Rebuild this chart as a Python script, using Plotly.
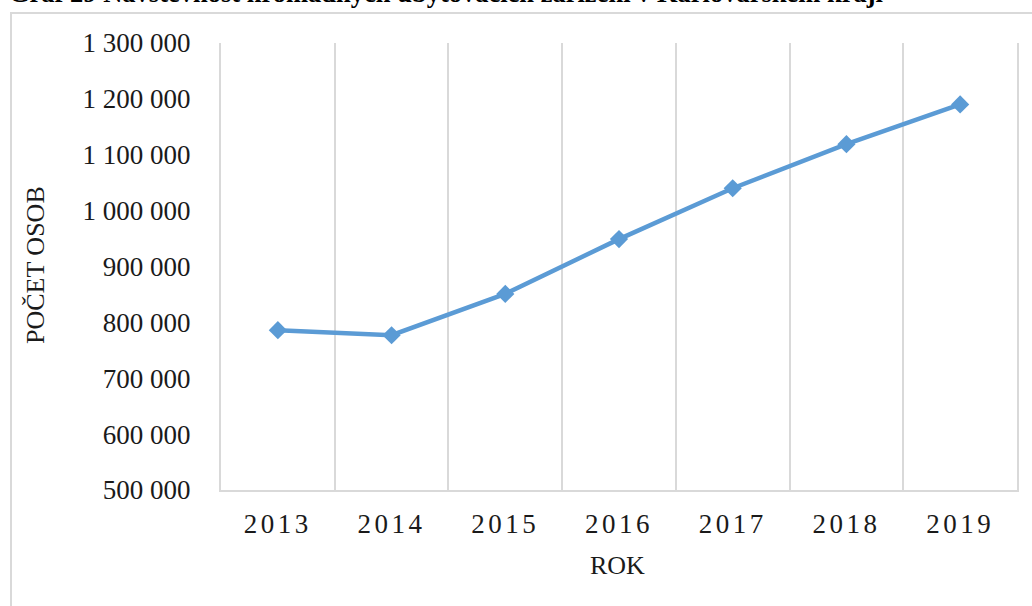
import plotly.graph_objects as go

years = ["2013", "2014", "2015", "2016", "2017", "2018", "2019"]
visitors = [786000, 777000, 851000, 949000, 1040000, 1119000, 1190000]

title_text = "Graf 29 Návštěvnost hromadných ubytovacích zařízení v Karlovarském kraji"
y_title = "POČET OSOB"
x_title = "ROK"

W, H = 1032, 606
L, R, T, B = 221, 1017, 43, 490


def px(x):
    return (x - L) / (R - L)


def py(y):
    return (B - y) / (B - T)


fig = go.Figure()
fig.add_trace(go.Scatter(
    x=years, y=visitors, mode="lines+markers",
    line=dict(color="#5B9BD5", width=4.5),
    marker=dict(symbol="diamond", size=14, color="#5B9BD5"),
    showlegend=False,
))

serif = "Liberation Serif, Times New Roman, serif"
txt = "#1a1a1a"

fig.update_layout(
    width=W, height=H,
    margin=dict(l=L, r=W - R, t=T, b=H - B),
    paper_bgcolor="white", plot_bgcolor="white",
    separators=". ",
    font=dict(family=serif, color=txt),
    xaxis=dict(
        type="category", range=[-0.5, 6.5], tickson="boundaries",
        tickmode="array", tickvals=years,
        ticktext=['<span style="letter-spacing:3.5px">' + y + '</span>' for y in years],
        showgrid=True, gridcolor="#d9d9d9", gridwidth=2,
        showline=True, linecolor="#d9d9d9", linewidth=2,
        ticks="", tickfont=dict(size=27, family=serif, color=txt),
        ticklabelstandoff=9,
    ),
    yaxis=dict(
        range=[500000, 1300000], dtick=100000, tickformat=",d",
        showgrid=False, zeroline=False,
        showline=True, mirror=True, linecolor="#d9d9d9", linewidth=2,
        ticks="", tickfont=dict(size=27, family=serif, color=txt),
        ticklabelstandoff=23,
    ),
    shapes=[dict(
        type="rect", xref="paper", yref="paper",
        x0=px(11), x1=px(1045), y0=py(620), y1=py(13),
        line=dict(color="#d9d9d9", width=2), fillcolor="rgba(0,0,0,0)",
        layer="below",
    )],
    annotations=[
        dict(text="<b>" + title_text + "</b>", xref="paper", yref="paper",
             x=px(7), y=py(10), xanchor="left", yanchor="bottom",
             showarrow=False, font=dict(size=26.5, family=serif, color="black")),
        dict(text=x_title, xref="paper", yref="paper",
             x=px(617), y=py(565), xanchor="center", yanchor="middle",
             showarrow=False, font=dict(size=26, family=serif, color=txt)),
        dict(text=y_title, xref="paper", yref="paper", textangle=-90,
             x=px(35), y=py(265), xanchor="center", yanchor="middle",
             showarrow=False, font=dict(size=26, family=serif, color=txt)),
    ],
)

fig.write_html("out.html", config={"displayModeBar": False},
               post_script="document.body.style.margin='0';")
